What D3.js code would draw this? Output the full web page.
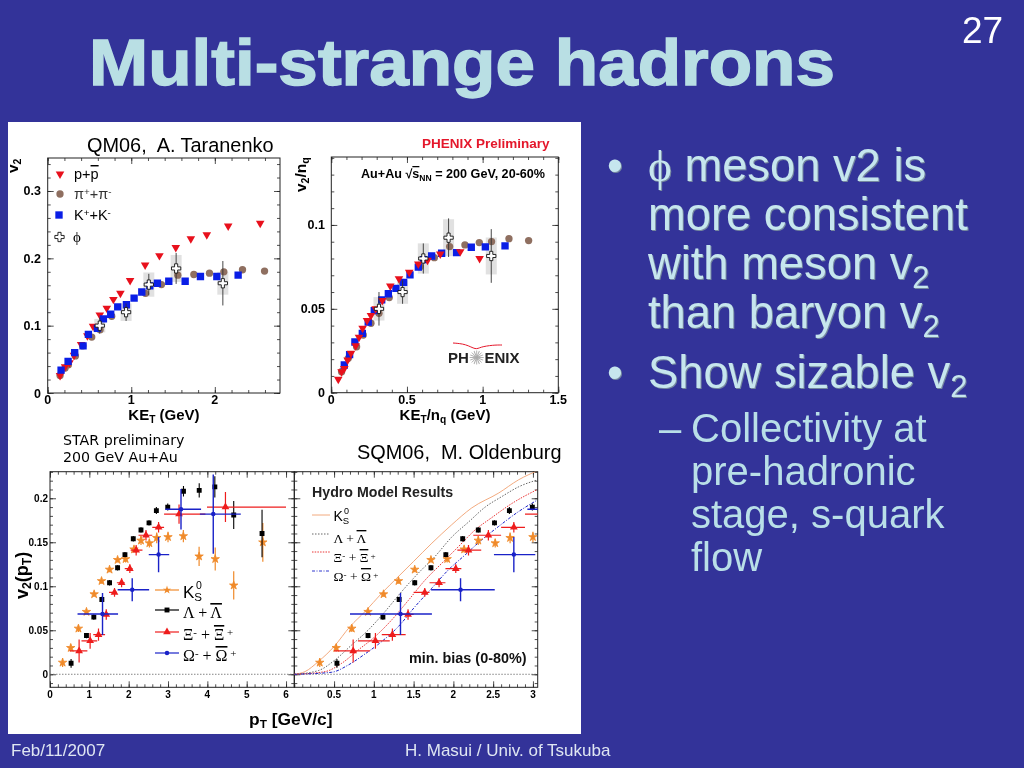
<!DOCTYPE html>
<html><head><meta charset="utf-8">
<style>
html,body{margin:0;padding:0;background:#333399;overflow:hidden}
svg{display:block}
text{font-family:"Liberation Sans",Arial,sans-serif}
.shadow{filter:drop-shadow(1.6px 1.6px 0 #75889f)}
</style>
<script src="https://cdnjs.cloudflare.com/ajax/libs/d3/7.8.5/d3.min.js"></script>
</head><body>
<svg id="s" width="1024" height="768"></svg>
<script>
// ---------- data: panel A (KE_T, v2) ----------
const protonA=[[.148,.026],[.208,.039],[.26,.045],[.315,.056],[.40,.072],[.475,.085],[.543,.099],[.623,.116],[.707,.126],[.786,.139],[.87,.148],[.986,.167],[1.166,.19],[1.337,.204],[1.533,.216],[1.713,.229],[1.904,.235],[2.16,.248],[2.543,.252]];
const pionA=[[.148,.026],[.208,.037],[.248,.042],[.331,.055],[.42,.07],[.527,.083],[.627,.094],[.766,.114],[1.17,.148],[1.361,.161],[1.557,.175],[1.749,.176],[1.936,.178],[2.108,.18],[2.331,.183],[2.595,.181]];
const kaonA=[[.16,.034],[.244,.047],[.323,.06],[.423,.07],[.487,.087],[.595,.096],[.667,.11],[.754,.117],[.838,.128],[.942,.131],[1.034,.141],[1.126,.15],[1.222,.159],[1.313,.163],[1.449,.166],[1.645,.166],[1.828,.173],[2.024,.173],[2.279,.175]];
const phiA=[[.623,.1,.012,.01],[.938,.12,.013,.013],[1.21,.161,.016,.018],[1.537,.185,.023,.02],[2.096,.163,.033,.017]];
// ---------- data: panel B (KE_T/nq, v2/nq) ----------
const protonB=[[.046,.008],[.068,.0125],[.086,.0145],[.108,.0195],[.13,.0235],[.161,.028],[.183,.033],[.207,.0384],[.236,.043],[.262,.046],[.293,.05],[.337,.055],[.39,.0636],[.447,.068],[.515,.0718],[.575,.0767],[.636,.079],[.72,.0827],[.852,.0841],[.98,.08]];
const pionB=[[.068,.0125],[.112,.0205],[.167,.0274],[.211,.0344],[.262,.0414],[.315,.0473],[.383,.0567],[.469,.0658],[.586,.0751],[.681,.0805],[.782,.0871],[.883,.0881],[.978,.0895],[1.059,.0901],[1.174,.0918],[1.304,.0907]];
const kaonB=[[.086,.0165],[.121,.0227],[.156,.0302],[.205,.0354],[.244,.0421],[.284,.0489],[.333,.0553],[.377,.059],[.427,.0622],[.478,.0658],[.52,.0702],[.575,.0749],[.61,.0793],[.663,.0815],[.729,.0831],[.828,.0835],[.925,.0867],[1.018,.0869],[1.148,.0875]];
const phiB=[[.315,.05,.01,.007],[.471,.06,.007,.007],[.608,.08,.009,.009],[.775,.0924,.0115,.011],[1.057,.0815,.016,.011]];
// ---------- data: panels C, D (pT, v2) ----------
const k0s=[[.32,.0133,.005],[.527,.03,.004],[.723,.052,.004],[.927,.071,.003],[1.122,.091,.003],[1.31,.106,.003],[1.514,.119,.003],[1.718,.13,.003],[1.922,.131,.004],[2.135,.142,.004],[2.313,.152,.005],[2.526,.149,.005],[2.713,.155,.006],[3.0,.156,.006],[3.39,.157,.007],[3.79,.134,.011],[4.2,.131,.013],[4.67,.101,.016],[5.41,.15,.022]];
const lambda=[[.536,.0125,.005],[.927,.044,.003],[1.114,.065,.003],[1.318,.085,.003],[1.514,.104,.003],[1.718,.121,.003],[1.905,.136,.003],[2.117,.154,.003],[2.313,.164,.003],[2.517,.172,.003],[2.704,.186,.004],[2.993,.19,.004],[3.393,.208,.006],[3.793,.209,.008],[4.19,.213,.012],[4.67,.181,.016],[5.39,.16,.027]];
// [x, y, yErr, xLow, xHigh]
const xi=[[.74,.0265,.013,.5,.95],[1.02,.038,.009,.8,1.2],[1.233,.045,.007,1.1,1.4],[1.43,.068,.006,1.3,1.5],[1.64,.093,.005,1.5,1.7],[1.82,.104,.005,1.7,1.9],[2.03,.12,.005,1.9,2.1],[2.19,.141,.006,2.05,2.35],[2.44,.158,.006,2.25,2.6],[2.76,.167,.006,2.6,2.9],[3.28,.182,.011,2.9,3.95],[4.46,.19,.017,3.99,6.0]];
const omega=[[1.335,.0685,.024,.7,1.73],[2.09,.096,.013,1.72,2.52],[2.76,.136,.02,2.51,3.03],[3.33,.1875,.023,2.93,3.84],[4.15,.182,.045,3.81,4.85]];
const modelK=[[0,0],[.134,.003],[.302,.0144],[.499,.0314],[.7,.0542],[.889,.0712],[1.098,.092],[1.308,.111],[1.497,.128],[1.73,.149],[1.98,.17],[2.23,.189],[2.57,.206],[2.82,.221],[3.06,.2314]];
const modelL=[[0,0],[.302,.0042],[.512,.0163],[.721,.0333],[.931,.0504],[1.14,.0712],[1.35,.094],[1.56,.115],[1.77,.134],[1.98,.156],[2.19,.173],[2.4,.19],[2.61,.202],[2.82,.213],[3.06,.221]];
const modelX=[[0,0],[.386,.003],[.596,.0125],[.805,.0277],[1.015,.0428],[1.224,.0617],[1.434,.084],[1.644,.107],[1.853,.126],[2.063,.145],[2.273,.164],[2.482,.178],[2.734,.194],[3.056,.21]];
const modelO=[[0,0],[.47,.0023],[.68,.0106],[.889,.0231],[1.098,.0371],[1.308,.0542],[1.518,.0769],[1.727,.0977],[1.937,.1186],[2.147,.1356],[2.356,.1527],[2.566,.1678],[2.818,.1848],[3.056,.198]];
// ---------- tick labels ----------
const xTicksA=[0,1,2], yTicksA=[0,.1,.2,.3];
const xTicksB=[0,.5,1,1.5], yTicksB=[0,.05,.1];
const xTicksC=[0,1,2,3,4,5,6], yTicksC=[0,.05,.1,.15,.2];
const xTicksD=[.5,1,1.5,2,2.5,3];

const RED="#e8101c",BROWN="#8f6f60",BLUE="#0a1ee6",ORANGE="#f08a2a",BLACK="#000",XIRED="#ee1c1c",OMBLUE="#1a22c8";
const root=d3.select("#s");
root.append("rect").attr("width",1024).attr("height",768).attr("fill","#333399");
root.append("rect").attr("x",8).attr("y",122).attr("width",573).attr("height",612).attr("fill","#fff");
const svg=root.append("g").style("filter","blur(.35px)");

function txt(p,x,y,size,s,o={}){
  const t=p.append("text").attr("x",x).attr("y",y).attr("font-size",size).attr("fill",o.fill||"#000").attr("xml:space","preserve").style("white-space","pre");
  if(o.bold)t.attr("font-weight","bold");
  if(o.anchor)t.attr("text-anchor",o.anchor);
  if(o.family)t.style("font-family",o.family);
  if(o.rot!=null)t.attr("transform",`rotate(${o.rot} ${x} ${y})`);
  if(o.cls)t.attr("class",o.cls);
  (Array.isArray(s)?s:[[s]]).forEach(seg=>{
    const [str,mode]=seg;
    const ts=t.append("tspan").text(str);
    if(mode==="sub")ts.attr("baseline-shift","-28%").attr("font-size",size*.68);
    if(mode==="sup")ts.attr("baseline-shift","38%").attr("font-size",size*.68);
    if(mode==="over")ts.style("text-decoration","overline");
    if(mode==="serif")ts.style("font-family","'Liberation Serif'");
  });
  return t;
}
function frame(cfg){
  const g=svg.append("g");
  const x=d3.scaleLinear().domain(cfg.xd).range([cfg.l,cfg.r]);
  const y=d3.scaleLinear().domain(cfg.yd).range([cfg.b,cfg.t]);
  const ax=g.append("g");
  const mk=(fn,sc,tv,len,pos,isX)=>{
    const a=ax.append("g").attr("transform",isX?`translate(0,${pos})`:`translate(${pos},0)`)
      .call(fn(sc).tickValues(tv).tickSize(len).tickFormat("").tickSizeOuter(0));
    a.select(".domain").attr("stroke","none");
    a.selectAll("line").attr("stroke","#222").attr("stroke-width",.8);
  };
  const within=(a,d)=>a.filter(v=>v>=d[0]-1e-9&&v<=d[1]+1e-9);
  const minorX=within(d3.range(0,40).map(i=>i*cfg.xm),cfg.xd), minorY=within(d3.range(-5,60).map(i=>i*cfg.ym),cfg.yd);
  mk(d3.axisBottom,x,minorX,-3,cfg.b,true); mk(d3.axisTop,x,minorX,-3,cfg.t,true);
  mk(d3.axisLeft,y,minorY,-3,cfg.l,false); mk(d3.axisRight,y,minorY,-3,cfg.r,false);
  mk(d3.axisBottom,x,cfg.xT,-6,cfg.b,true); mk(d3.axisTop,x,cfg.xT,-6,cfg.t,true);
  mk(d3.axisLeft,y,cfg.yT,-6,cfg.l,false); mk(d3.axisRight,y,cfg.yT,-6,cfg.r,false);
  g.append("rect").attr("x",cfg.l).attr("y",cfg.t).attr("width",cfg.r-cfg.l).attr("height",cfg.b-cfg.t).attr("fill","none").attr("stroke","#222").attr("stroke-width",1);
  const id="c"+Math.round(cfg.l);
  svg.append("clipPath").attr("id",id).append("rect").attr("x",cfg.l).attr("y",cfg.t).attr("width",cfg.r-cfg.l).attr("height",cfg.b-cfg.t);
  const plot=svg.append("g").attr("clip-path",`url(#${id})`);
  return {g,x,y,plot};
}
const sym=(type,size)=>d3.symbol().type(type).size(size)();
function marks(p,data,xs,ys,type,size,fill,rot=0,sw=0){
  p.selectAll(null).data(data).join("path").attr("d",sym(type,size))
   .attr("transform",d=>`translate(${xs(d[0])},${ys(d[1])}) rotate(${rot})`)
   .attr("fill",fill).attr("stroke",sw?fill:"none").attr("stroke-width",sw);
}
function yerr(p,data,xs,ys,color,w=1.1){
  p.selectAll(null).data(data).join("line")
   .attr("x1",d=>xs(d[0])).attr("x2",d=>xs(d[0]))
   .attr("y1",d=>ys(d[1]-d[2])).attr("y2",d=>ys(d[1]+d[2]))
   .attr("stroke",color).attr("stroke-width",w);
}
function xerr(p,data,xs,ys,color,w=1.1){
  p.selectAll(null).data(data).join("line")
   .attr("x1",d=>xs(d[3])).attr("x2",d=>xs(d[4]))
   .attr("y1",d=>ys(d[1])).attr("y2",d=>ys(d[1]))
   .attr("stroke",color).attr("stroke-width",w);
}
const crossPath=(s)=>sym(d3.symbolCross,s);
function phiBoxes(p,data,xs,ys,boxW){
  p.selectAll(null).data(data).join("rect")
   .attr("x",d=>xs(d[0])-boxW/2).attr("width",boxW)
   .attr("y",d=>ys(d[1]+d[3])).attr("height",d=>ys(d[1]-d[3])-ys(d[1]+d[3]))
   .attr("fill","#dcdcdc").attr("opacity",.85);
}
function phiFront(p,data,xs,ys){
  yerr(p,data,xs,ys,"#333",.9);
  p.selectAll(null).data(data).join("path").attr("d",crossPath(48))
   .attr("transform",d=>`translate(${xs(d[0])},${ys(d[1])})`)
   .attr("fill","#fff").attr("stroke","#111").attr("stroke-width",.9);
}
const TRI=32,CIR=42,SQ=54;

// ---- Panel A
const A=frame({l:47.7,r:280,t:158,b:393,xd:[0,2.78],yd:[0,.349],xm:.2,ym:.02,xT:xTicksA,yT:yTicksA});
phiBoxes(A.plot,phiA,A.x,A.y,11);
marks(A.plot,pionA,A.x,A.y,d3.symbolCircle,CIR,BROWN);
marks(A.plot,protonA,A.x,A.y,d3.symbolTriangle,TRI,RED,180);
marks(A.plot,kaonA,A.x,A.y,d3.symbolSquare,SQ,BLUE);
phiFront(A.plot,phiA,A.x,A.y);
xTicksA.forEach(v=>txt(A.g,A.x(v),404,12.5,String(v),{bold:1,anchor:"middle"}));
yTicksA.forEach(v=>txt(A.g,41,A.y(v)+4.5,12.5,String(v),{bold:1,anchor:"end"}));
txt(A.g,18,173,15.5,[["v"],["2","sub"]],{bold:1,rot:-90});
txt(A.g,164,420,15,[["KE"],["T","sub"],[" (GeV)"]],{bold:1,anchor:"middle"});
txt(svg,87,152,19.9,"QM06,  A. Taranenko");
const legA=svg.append("g");
[[d3.symbolTriangle,TRI,RED,180,60,174],[d3.symbolCircle,CIR,BROWN,0,60,194],[d3.symbolSquare,SQ,BLUE,0,59,215]].forEach(r=>{
  legA.append("path").attr("d",sym(r[0],r[1])).attr("fill",r[2]).attr("transform",`translate(${r[4]},${r[5]}) rotate(${r[3]})`);
});
legA.append("path").attr("d",crossPath(48)).attr("transform","translate(59.5,237)").attr("fill","#fff").attr("stroke","#111").attr("stroke-width",.9);
txt(legA,74,179,14.5,[["p+"],["p","over"]]);
txt(legA,74,199,14.5,[["π"],["+","sup"],["+π"],["-","sup"]],{fill:"#333"});
txt(legA,74,220,14.5,[["K"],["+","sup"],["+K"],["-","sup"]]);
txt(legA,73,242,15,"ϕ",{family:"'Liberation Serif'"});

// ---- Panel B
const B=frame({l:331.3,r:558.3,t:157,b:392.7,xd:[0,1.5],yd:[0,.1405],xm:.1,ym:.01,xT:xTicksB,yT:yTicksB});
phiBoxes(B.plot,phiB,B.x,B.y,11);
marks(B.plot,pionB,B.x,B.y,d3.symbolCircle,CIR,BROWN);
marks(B.plot,kaonB,B.x,B.y,d3.symbolSquare,SQ,BLUE);
marks(B.plot,protonB,B.x,B.y,d3.symbolTriangle,TRI,RED,180);
phiFront(B.plot,phiB,B.x,B.y);
xTicksB.forEach(v=>txt(B.g,B.x(v),404,12.5,String(v),{bold:1,anchor:"middle"}));
yTicksB.forEach(v=>txt(B.g,325,B.y(v)+4.5,12.5,String(v),{bold:1,anchor:"end"}));
txt(B.g,306,192,15.5,[["v"],["2","sub"],["/n"],["q","sub"]],{bold:1,rot:-90});
txt(B.g,445,420,15,[["KE"],["T","sub"],["/n"],["q","sub"],[" (GeV)"]],{bold:1,anchor:"middle"});
txt(svg,422,148,13.5,"PHENIX Preliminary",{bold:1,fill:"#e4172b"});
txt(svg,361,178,12.6,[["Au+Au √"],["s","over"],["NN","sub"],[" = 200 GeV, 20-60%"]],{bold:1});
txt(svg,448,363,15,"PH",{bold:1,fill:"#222"});
txt(svg,484.5,363,15,"ENIX",{bold:1,fill:"#222"});
const star=svg.append("g").attr("transform","translate(476.7,357.5)");
star.selectAll(null).data(d3.range(16)).join("line").attr("x2",7).attr("stroke","#aaa").attr("stroke-width",.9).attr("transform",d=>`rotate(${d*22.5})`);
svg.append("path").attr("d",d3.line().curve(d3.curveBasis)([[453,343],[466,344],[476,350],[480,347],[493,345],[502,345]])).attr("fill","none").attr("stroke","#e4172b").attr("stroke-width",1);

// ---- Panel C
const C=frame({l:50,r:294.3,t:471.7,b:687.3,xd:[0,6.21],yd:[-.0148,.2302],xm:.2,ym:.01,xT:xTicksC,yT:yTicksC});
function zero(P){P.plot.append("line").attr("x1",P.x.range()[0]).attr("x2",P.x.range()[1]).attr("y1",P.y(0)).attr("y2",P.y(0)).attr("stroke","#666").attr("stroke-width",.8).attr("stroke-dasharray","1.5 1.5");}
function starData(P){
  yerr(P.plot,k0s,P.x,P.y,ORANGE,1.2);
  marks(P.plot,k0s,P.x,P.y,d3.symbolStar,22,ORANGE,0,.8);
  yerr(P.plot,lambda,P.x,P.y,BLACK,1.1);
  marks(P.plot,lambda,P.x,P.y,d3.symbolSquare,24,BLACK);
  yerr(P.plot,xi,P.x,P.y,XIRED,1.2);
  xerr(P.plot,xi,P.x,P.y,XIRED,1.2);
  marks(P.plot,xi,P.x,P.y,d3.symbolTriangle,26,XIRED);
  yerr(P.plot,omega,P.x,P.y,OMBLUE,1.4);
  xerr(P.plot,omega,P.x,P.y,OMBLUE,1.4);
  marks(P.plot,omega,P.x,P.y,d3.symbolCircle,16,OMBLUE);
}
zero(C); starData(C);
xTicksC.forEach(v=>txt(C.g,C.x(v),698,10,String(v),{bold:1,anchor:"middle"}));
yTicksC.forEach(v=>txt(C.g,48,C.y(v)+3.5,10,String(v),{bold:1,anchor:"end"}));
txt(C.g,28,599,18,[["v"],["2","sub"],["(p"],["T","sub"],[")"]],{bold:1,rot:-90});
txt(C.g,249,725,17.4,[["p"],["T","sub"],[" [GeV/c]"]],{bold:1});
txt(svg,63,445,14.2,"STAR preliminary",{family:"'DejaVu Sans'"});
txt(svg,63,462,14.2,"200 GeV Au+Au",{family:"'DejaVu Sans'"});
const SER="'Liberation Serif'";
const legC=svg.append("g");
[[ORANGE,d3.symbolStar,22,590],[BLACK,d3.symbolSquare,24,610],[XIRED,d3.symbolTriangle,26,632],[OMBLUE,d3.symbolCircle,16,653]].forEach(r=>{
  legC.append("line").attr("x1",155).attr("x2",179).attr("y1",r[3]).attr("y2",r[3]).attr("stroke",r[0]).attr("stroke-width",1.2);
  legC.append("path").attr("d",sym(r[1],r[2])).attr("fill",r[0]).attr("transform",`translate(167,${r[3]})`);
});
txt(legC,183,598,17,[["K"],["S","sub"]]);
txt(legC,196,589,10.5,"0");
txt(legC,183,618,16,[["Λ + "],["Λ","over"]],{family:SER});
txt(legC,183,640,16,[["Ξ"],["-","sup"],[" + "],["Ξ","over"],[" +","sup"]],{family:SER});
txt(legC,183,661,16,[["Ω"],["-","sup"],[" + "],["Ω","over"],[" +","sup"]],{family:SER});

// ---- Panel D
const D=frame({l:294.3,r:537.7,t:471.7,b:687.3,xd:[0,3.06],yd:[-.0148,.2302],xm:.1,ym:.01,xT:xTicksD,yT:yTicksC});
zero(D);
const ln=d3.line().x(d=>D.x(d[0])).y(d=>D.y(d[1])).curve(d3.curveMonotoneX);
D.plot.append("path").attr("d",ln(modelK)).attr("fill","none").attr("stroke","#f0a070").attr("stroke-width",.9);
D.plot.append("path").attr("d",ln(modelL)).attr("fill","none").attr("stroke","#555").attr("stroke-width",.9).attr("stroke-dasharray","1.5 1.5");
D.plot.append("path").attr("d",ln(modelX)).attr("fill","none").attr("stroke","#e82020").attr("stroke-width",.9).attr("stroke-dasharray","1.5 1.2");
D.plot.append("path").attr("d",ln(modelO)).attr("fill","none").attr("stroke","#1a22c8").attr("stroke-width",1).attr("stroke-dasharray","3 1.5 1 1.5");
starData(D);
xTicksD.forEach(v=>txt(D.g,D.x(v),698,10,String(v),{bold:1,anchor:"middle"}));
txt(svg,312,497,14.2,"Hydro Model Results",{bold:1,fill:"#222"});
txt(svg,409,663,14.4,"min. bias (0-80%)",{bold:1,fill:"#111"});
txt(svg,357,459,19.9,"SQM06,  M. Oldenburg");
const legD=svg.append("g");
[["#f0a070",null,515],["#555","1.5 1.5",534],["#e82020","1.5 1.2",552],["#1a22c8","3 1.5 1 1.5",571]].forEach(r=>{
  legD.append("line").attr("x1",312).attr("x2",330).attr("y1",r[2]).attr("y2",r[2]).attr("stroke",r[0]).attr("stroke-width",.9).attr("stroke-dasharray",r[1]);
});
txt(legD,333.5,521,14,[["K"],["S","sub"]]);
txt(legD,344,514,9,"0");
txt(legD,333.5,543,13.5,[["Λ + "],["Λ","over"]],{family:SER});
txt(legD,333.5,562,13.5,[["Ξ"],["-","sup"],[" + "],["Ξ","over"],[" +","sup"]],{family:SER});
txt(legD,333.5,581,13.5,[["Ω"],["-","sup"],[" + "],["Ω","over"],[" +","sup"]],{family:SER});

// ---- Slide text
const TITLE="#b9dfe4",BODY="#c6e6ee";
txt(root,89,85,65,"Multi-strange hadrons",{bold:1,fill:TITLE}).attr("textLength",746).attr("lengthAdjust","spacingAndGlyphs").attr("stroke",TITLE).attr("stroke-width",1.4);
txt(root,962,43,37,"27",{fill:"#fff"});
txt(root,11,756,17,"Feb/11/2007",{fill:"#dfe6f2"});
txt(root,405,756,17,"H. Masui / Univ. of Tsukuba",{fill:"#dfe6f2"});
const bodyLines=[[181,[["ϕ","serif"],[" meson v2 is"]]],[230,[["more consistent"]]],[279,[["with meson v"],["2","sub"]]],[328,[["than baryon v"],["2","sub"]]],[388,[["Show sizable v"],["2","sub"]]]];
bodyLines.forEach(r=>{txt(root,648,r[0],45.3,r[1],{fill:BODY,cls:"shadow"});});
[181,388].forEach(y=>txt(root,607,y,45.3,"•",{fill:BODY,cls:"shadow"}));
txt(root,659,442,40,"–",{fill:"#b9dfe8"});
[["Collectivity at",442],["pre-hadronic",485],["stage, s-quark",528],["flow",571]].forEach(r=>txt(root,691,r[1],40,r[0],{fill:"#b9dfe8"}));
</script>
</body></html>
